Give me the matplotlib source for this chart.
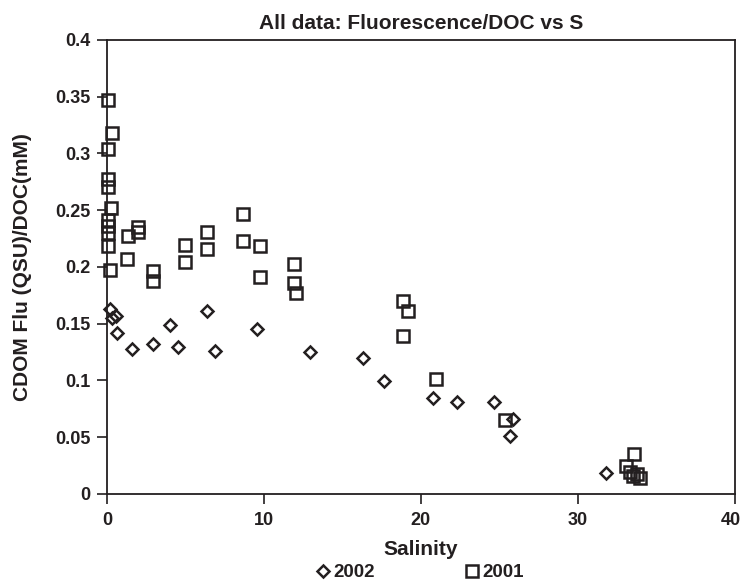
import numpy as np
import matplotlib.pyplot as plt
import matplotlib.transforms as mtransforms
from matplotlib.ticker import FuncFormatter

## salinity / fluorescence-to-DOC ratio
sal_2002 = [0.19, 0.6, 0.3, 0.62, 1.57, 2.95, 4.0, 4.54, 6.39, 6.88, 9.53,
            12.93, 16.28, 17.66, 20.79, 22.27, 24.65, 25.84, 25.67, 31.78]
ratio_2002 = [0.163, 0.157, 0.155, 0.1416, 0.1277, 0.1319, 0.149, 0.1298, 0.161, 0.1263, 0.145,
              0.125, 0.1195, 0.0996, 0.0843, 0.0813, 0.0813, 0.066, 0.0514, 0.0188]

sal_2001 = [0.08, 0.35, 0.08, 0.08, 0.08, 0.25, 0.08, 0.08, 0.08, 0.08, 0.19,
            1.32, 2.0, 2.0, 1.25, 2.95, 2.95, 4.97, 4.97, 6.35, 6.35,
            8.68, 8.68, 9.75, 9.75, 11.9, 11.9, 12.04,
            18.87, 19.19, 18.87, 20.96, 25.35,
            33.06, 33.59, 33.35, 33.5, 33.75, 33.95]
ratio_2001 = [0.347, 0.318, 0.304, 0.277, 0.270, 0.2517, 0.241, 0.236, 0.2297, 0.2185, 0.197,
              0.227, 0.2355, 0.231, 0.207, 0.196, 0.188, 0.219, 0.204, 0.231, 0.216,
              0.247, 0.223, 0.2185, 0.191, 0.203, 0.186, 0.177,
              0.170, 0.161, 0.1395, 0.101, 0.065,
              0.0247, 0.0352, 0.019, 0.016, 0.018, 0.0145]

INK = "#231f20"
plt.rcParams["font.family"] = ["Liberation Sans", "DejaVu Sans"]
plt.rcParams["font.weight"] = "bold"

fig = plt.figure(figsize = (7.43, 5.86), dpi = 100)
ax = fig.add_axes([0.144, 0.157, 0.845, 0.775])

ax.plot(sal_2002, ratio_2002, linestyle = "none", marker = "D", markersize = 6.6,
        markerfacecolor = "none", markeredgecolor = INK, markeredgewidth = 1.8,
        label = "2002", clip_on = False, zorder = 3)
ax.plot(sal_2001, ratio_2001, linestyle = "none", marker = "s", markersize = 9.2,
        markerfacecolor = "none", markeredgecolor = INK, markeredgewidth = 1.8,
        label = "2001", clip_on = False, zorder = 3)

ax.set_xlim(0, 40)
ax.set_ylim(0, 0.4)
ax.set_xticks(np.arange(0, 41, 10))
ax.set_yticks(np.arange(0, 0.401, 0.05))
ax.yaxis.set_major_formatter(FuncFormatter(lambda v, p: "{:g}".format(round(v, 2))))

for s in ax.spines.values():
    s.set_color(INK)
    s.set_linewidth(1.3)
ax.tick_params(direction = "out", length = 7, width = 1.2, color = INK,
               labelsize = 13, labelcolor = INK)
ax.tick_params(axis = "x", pad = 6)
ax.tick_params(axis = "y", pad = 5)
for lab in ax.get_xticklabels() + ax.get_yticklabels():
    lab.set_fontweight("bold")

## the last x label sits on the figure edge, nudge it in a bit
last = ax.get_xticklabels()[-1]
last.set_transform(last.get_transform() + mtransforms.ScaledTranslation(-4 / 100, 0, fig.dpi_scale_trans))

ax.set_title("All data: Fluorescence/DOC vs S", fontsize = 15, fontweight = "bold", color = INK, pad = 8)
ax.set_xlabel("Salinity", fontsize = 15, fontweight = "bold", color = INK, va = "center")
ax.set_ylabel("CDOM Flu (QSU)/DOC(mM)", fontsize = 15, fontweight = "bold", color = INK, va = "center")
ax.xaxis.set_label_coords(0.5, -0.123)
ax.yaxis.set_label_coords(-0.135, 0.5)

fig.legend(loc = "lower center", ncol = 2, frameon = False, fontsize = 13.5,
           bbox_to_anchor = (0.565, -0.021), columnspacing = 4.8, handletextpad = 0.15,
           handlelength = 0.8, labelcolor = INK)

fig.savefig("out.png", dpi = 100)
